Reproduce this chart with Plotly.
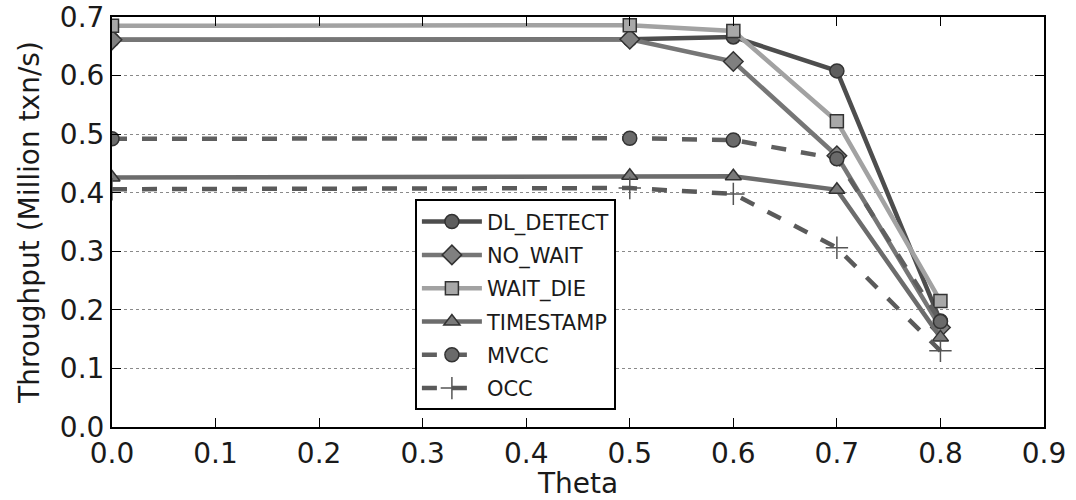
import plotly.graph_objects as go

theta = [0.0, 0.5, 0.6, 0.7, 0.8]

dl_detect = [0.661, 0.662, 0.666, 0.608, 0.181]
no_wait = [0.661, 0.662, 0.624, 0.463, 0.170]
wait_die = [0.685, 0.686, 0.676, 0.522, 0.215]
timestamp = [0.426, 0.429, 0.428, 0.405, 0.153]
mvcc = [0.492, 0.493, 0.490, 0.458, 0.180]
occ = [0.406, 0.408, 0.398, 0.306, 0.130]

x_ticks = [0.0, 0.1, 0.2, 0.3, 0.4, 0.5, 0.6, 0.7, 0.8, 0.9]
y_ticks = [0.0, 0.1, 0.2, 0.3, 0.4, 0.5, 0.6, 0.7]

FONT = "DejaVu Sans"

series = [
    ("DL_DETECT", dl_detect, "#4d4d4d", "solid", "circle", "#5e5e5e", 14),
    ("NO_WAIT", no_wait, "#767676", "solid", "diamond", "#808080", 15),
    ("WAIT_DIE", wait_die, "#a2a2a2", "solid", "square", "#a8a8a8", 13),
    ("TIMESTAMP", timestamp, "#6c6c6c", "solid", "triangle-up", "#7a7a7a", 14),
    ("MVCC", mvcc, "#5f5f5f", "15px,15px", "circle", "#6a6a6a", 14),
    ("OCC", occ, "#5a5a5a", "15px,15px", "cross-thin", "#555555", 16),
]

fig = go.Figure()
for name, vals, lc, dash, sym, mc, ms in series:
    edge = "#555555" if sym == "cross-thin" else "#333333"
    fig.add_trace(go.Scatter(
        x=theta, y=vals, name=name, legendgroup=name, mode="lines+markers",
        line=dict(color=lc, width=4.5, dash=dash),
        marker=dict(symbol=sym, size=ms, color=mc,
                    line=dict(color=edge, width=1.5)),
    ))

axis_common = dict(
    showline=True, linecolor="black", linewidth=2, mirror="ticks",
    ticks="inside", ticklen=9, tickwidth=1.2, tickcolor="black",
    tickfont=dict(family=FONT, size=28, color="#1a1a1a"),
    ticklabeloverflow="allow", automargin=False,
    zeroline=False,
)

fig.update_xaxes(
    range=[0, 0.9], tickvals=x_ticks, ticktext=[f"{v:.1f}" for v in x_ticks],
    showgrid=False,
    title=dict(text="Theta", font=dict(family=FONT, size=28, color="#1a1a1a"),
               standoff=2),
    **axis_common,
)
fig.update_yaxes(
    range=[0, 0.7], tickvals=y_ticks, ticktext=[f"{v:.1f}" for v in y_ticks],
    showgrid=True, gridcolor="#8a8a8a", gridwidth=1, griddash="dot",
    title=dict(text="Throughput (Million txn/s)",
               font=dict(family=FONT, size=28, color="#1a1a1a"), standoff=12),
    **axis_common,
)

fig.update_layout(
    width=1076, height=500,
    margin=dict(l=112, r=32, t=17, b=73),
    paper_bgcolor="white", plot_bgcolor="white",
    font=dict(family=FONT, color="#1a1a1a"),
    legend=dict(
        x=0.325, y=0.555, xanchor="left", yanchor="top",
        bgcolor="white", bordercolor="black", borderwidth=2,
        font=dict(family=FONT, size=21, color="#1a1a1a"),
        itemwidth=60, tracegroupgap=3,
    ),
    showlegend=True,
)

fig.write_html("out.html")
